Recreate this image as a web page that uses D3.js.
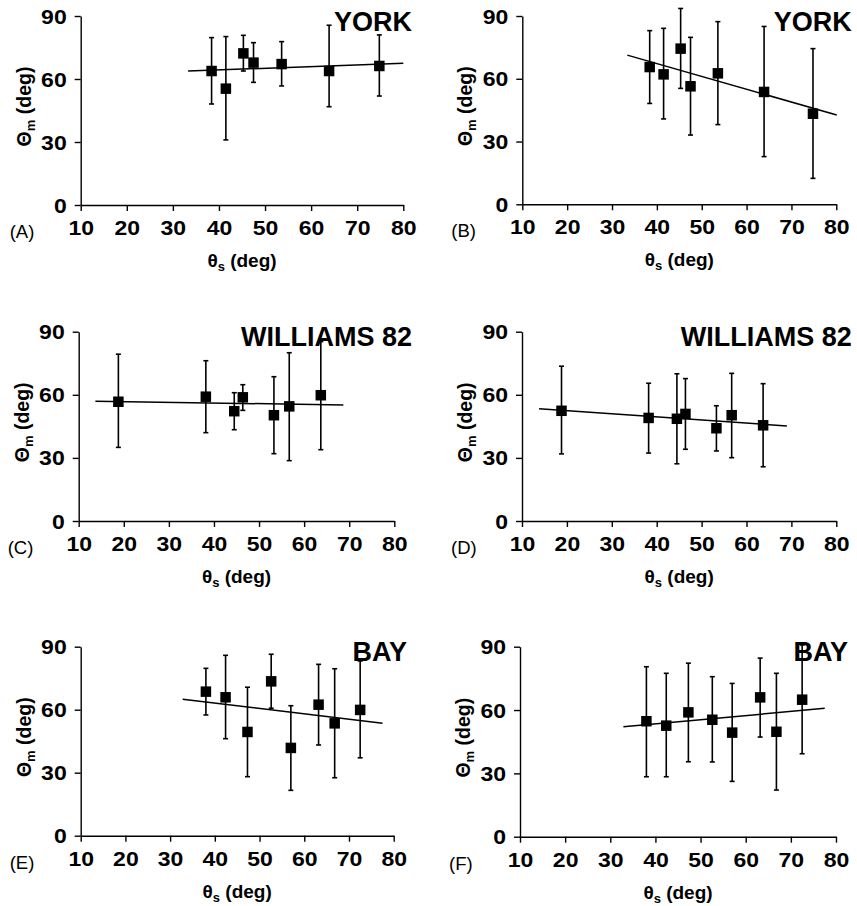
<!DOCTYPE html>
<html>
<head>
<meta charset="utf-8">
<script src="https://cdn.jsdelivr.net/npm/d3@7"></script>
<style>
  body { margin: 0; background: #fff; }
  svg { display: block; font-family: 'Liberation Sans', Arial, sans-serif; }
</style>
</head>
<body>
<svg id="chart"></svg>
<script>
let width = 857;
let height = 906;

// ---- data ----
let panelLetters = ['A', 'B', 'C', 'D', 'E', 'F'];
let titles = ['YORK', 'YORK', 'WILLIAMS 82', 'WILLIAMS 82', 'BAY', 'BAY'];

let yorkS = [38.4, 41.5, 45.3, 47.5, 53.6, 63.9, 74.8];
let williamsS = [18.8, 38.2, 44.5, 46.4, 53.3, 56.7, 63.7];
let bayS = [38.0, 42.4, 47.3, 52.6, 57.0, 63.2, 66.8, 72.5];
let thetaS = [yorkS, yorkS, williamsS, williamsS, bayS, bayS];

let thetaM = [
    [63.8, 55.4, 72.2, 67.8, 67.1, 63.8, 66.2],
    [65.6, 62.1, 74.4, 56.4, 62.6, 53.7, 43.3],
    [56.7, 59.1, 52.2, 58.8, 50.3, 54.5, 59.8],
    [52.4, 49.0, 48.6, 50.9, 44.1, 50.3, 45.5],
    [68.6, 65.9, 49.4, 73.5, 41.8, 62.4, 53.5, 59.9],
    [54.7, 52.6, 58.9, 55.4, 49.3, 66.0, 49.7, 64.9],
];
let upper = [
    [79.7, 80.2, 80.8, 77.3, 77.8, 85.6, 81.0],
    [83.0, 84.1, 93.6, 79.8, 87.3, 85.0, 74.4],
    [79.3, 76.2, 61.0, 64.8, 68.6, 80.0, 85.3],
    [73.6, 65.5, 70.0, 67.7, 54.8, 70.2, 65.3],
    [79.7, 85.9, 70.7, 86.4, 61.9, 81.6, 79.5, 83.2],
    [80.5, 77.4, 82.2, 75.8, 72.6, 84.6, 77.4, 90.8],
];
let lower = [
    [48.1, 31.0, 63.8, 58.4, 56.7, 46.8, 51.9],
    [48.2, 40.8, 55.4, 33.1, 38.1, 22.8, 12.4],
    [35.0, 42.0, 43.4, 52.6, 32.0, 28.7, 33.9],
    [31.9, 32.3, 27.2, 34.1, 33.3, 30.1, 25.8],
    [57.5, 46.2, 28.1, 60.7, 21.6, 43.2, 27.6, 37.1],
    [28.4, 28.4, 35.5, 35.4, 26.2, 47.2, 22.1, 39.3],
];
// fitted line end points
let trendX = [[33.3, 80], [33.4, 80.1], [13.7, 68.7], [13.8, 69.0], [32.8, 77.5], [32.9, 77.5]];
let trendY = [[63.8, 67.5], [71.3, 42.7], [56.9, 55.2], [53.4, 45.2], [65.0, 53.5], [52.1, 60.8]];

let xTicks = [10, 20, 30, 40, 50, 60, 70, 80];
let yTicks = [0, 30, 60, 90];

// ---- layout (pixel frame of each panel) ----
let frames = [
    { x0: 80.7, x1: 403.3, yTop: 16, yBot: 205 },
    { x0: 522.3, x1: 836.3, yTop: 16, yBot: 204.3 },
    { x0: 78.7, x1: 394.3, yTop: 331.7, yBot: 521 },
    { x0: 522, x1: 836.3, yTop: 331.7, yBot: 521 },
    { x0: 80.7, x1: 393.7, yTop: 646.7, yBot: 835.7 },
    { x0: 520, x1: 836, yTop: 646.7, yBot: 836.7 },
];
let titleRight = [412, 851.7, 412, 851.7, 407, 848];

let svg = d3.select('#chart').attr('width', width).attr('height', height);

// the figure's digits are set wider than plain Arial bold
let widen = (sel) => {
    sel.attr('textLength', function () {
        return this.textContent.length * 12.8;
    }).attr('lengthAdjust', 'spacingAndGlyphs');
};

let drawPanel = (i) => {
    let f = frames[i];
    let g = svg.append('g');

    let xScale = d3.scaleLinear().domain([10, 80]).range([f.x0, f.x1]);
    let yScale = d3.scaleLinear().domain([0, 90]).range([f.yBot, f.yTop]);

    let xAxis = d3.axisBottom(xScale).tickValues(xTicks).tickSizeInner(6).tickSizeOuter(0).tickPadding(10);
    let yAxis = d3.axisLeft(yScale).tickValues(yTicks).tickSizeInner(6).tickSizeOuter(0).tickPadding(8);

    let gx = g.append('g').attr('transform', `translate(0, ${f.yBot})`).call(xAxis);
    let gy = g.append('g').attr('transform', `translate(${f.x0}, 0)`).call(yAxis);

    [gx, gy].forEach((a) => {
        a.selectAll('path, line').attr('stroke', '#000').attr('stroke-width', 1.4);
        a.selectAll('text')
            .attr('fill', '#000')
            .style('font-size', '19.5px')
            .style('font-weight', 'bold')
            .call(widen);
    });
    gx.selectAll('text').attr('dy', '0.71em');
    gy.selectAll('text').attr('dy', '0.36em');

    // fitted line
    g.append('line')
        .attr('x1', xScale(trendX[i][0]))
        .attr('x2', xScale(trendX[i][1]))
        .attr('y1', yScale(trendY[i][0]))
        .attr('y2', yScale(trendY[i][1]))
        .attr('stroke', '#000')
        .attr('stroke-width', 1.5);

    let pts = thetaS[i].map((s, j) => ({ s: s, m: thetaM[i][j], hi: upper[i][j], lo: lower[i][j] }));

    // error bars
    let bars = g.selectAll('.err').data(pts).enter().append('g').attr('class', 'err');
    bars.append('line')
        .attr('x1', (d) => xScale(d.s))
        .attr('x2', (d) => xScale(d.s))
        .attr('y1', (d) => yScale(d.hi))
        .attr('y2', (d) => yScale(d.lo))
        .attr('stroke', '#000')
        .attr('stroke-width', 1.6);
    ['hi', 'lo'].forEach((k) => {
        bars.append('line')
            .attr('x1', (d) => xScale(d.s) - 2.5)
            .attr('x2', (d) => xScale(d.s) + 2.5)
            .attr('y1', (d) => yScale(d[k]))
            .attr('y2', (d) => yScale(d[k]))
            .attr('stroke', '#000')
            .attr('stroke-width', 1.6);
    });

    // square markers
    g.selectAll('.pt')
        .data(pts)
        .enter()
        .append('rect')
        .attr('class', 'pt')
        .attr('x', (d) => xScale(d.s) - 5.25)
        .attr('y', (d) => yScale(d.m) - 5.25)
        .attr('width', 10.5)
        .attr('height', 10.5)
        .attr('fill', '#000');

    // cultivar title
    g.append('text')
        .attr('x', titleRight[i])
        .attr('y', f.yTop + 14.5)
        .attr('text-anchor', 'end')
        .style('font-size', '27px')
        .style('font-weight', 'bold')
        .text(titles[i]);

    // panel letter
    g.append('text')
        .attr('x', f.x0 - 71)
        .attr('y', f.yBot + 33)
        .style('font-size', '18.5px')
        .text('(' + panelLetters[i] + ')');

    // x axis title
    let xt = g.append('text')
        .attr('x', (f.x0 + f.x1) / 2)
        .attr('y', f.yBot + 62)
        .attr('text-anchor', 'middle')
        .style('font-size', '19px')
        .style('font-weight', 'bold');
    xt.append('tspan').text('θ');
    xt.append('tspan').attr('dy', 4).style('font-size', '13px').text('s');
    xt.append('tspan').attr('dy', -4).text(' (deg)');

    // y axis title
    let cy = (f.yTop + f.yBot) / 2 - 4;
    let yt = g.append('text')
        .attr('transform', `translate(${f.x0 - 50}, ${cy}) rotate(-90)`)
        .attr('text-anchor', 'middle')
        .style('font-size', '19.5px')
        .style('font-weight', 'bold');
    yt.append('tspan').text('Θ');
    yt.append('tspan').attr('dy', 4).style('font-size', '13px').text('m');
    yt.append('tspan').attr('dy', -4).text(' (deg)');
};

panelLetters.forEach((p, i) => drawPanel(i));
</script>
</body>
</html>
